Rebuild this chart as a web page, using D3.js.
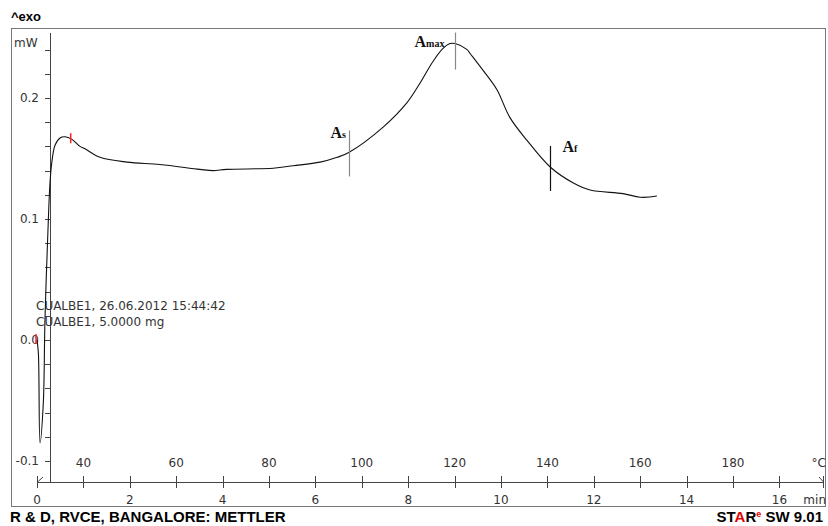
<!DOCTYPE html>
<html>
<head>
<meta charset="utf-8">
<script src="https://cdn.jsdelivr.net/npm/d3@7"></script>
<style>
  body { margin: 0; background: #fff; }
  svg { display: block; }
</style>
</head>
<body>
<svg id="chart" width="828" height="526"></svg>
<script>
// DSC curve: time in min, heat flow in mW
const timeMin = [0, 0.03, 0.065, 0.136, 0.172, 0.244, 0.28, 0.317, 0.388, 0.496, 0.603, 0.748,
  0.927, 1.034, 1.358, 1.94, 2.65, 3.51, 3.79, 4.09, 5.09, 5.52, 6.10, 6.47, 6.72,
  7.46, 7.97, 8.25, 8.53, 8.75, 8.90, 9.01, 9.27, 9.33, 9.61, 9.91, 10.19, 10.56,
  11.06, 11.55, 11.92, 12.63, 13.0, 13.36];
const heatFlow = [0.0, -0.011, -0.085, -0.052, 0.017, 0.099, 0.130, 0.146, 0.161, 0.167, 0.168, 0.166,
  0.160, 0.158, 0.151, 0.147, 0.145, 0.141, 0.140, 0.141, 0.142, 0.144, 0.147, 0.151, 0.155,
  0.176, 0.196, 0.212, 0.230, 0.241, 0.245, 0.245, 0.240, 0.237, 0.223, 0.207, 0.184, 0.165,
  0.143, 0.130, 0.124, 0.121, 0.118, 0.119];

// evaluation marks
const marks = [
  { name: 'A', sub: 's', t: 6.72, v: 0.155 },
  { name: 'A', sub: 'max', t: 9.01, v: 0.245 },
  { name: 'A', sub: 'f', t: 11.06, v: 0.143 }
];
const redTicks = [0, 0.748];

const timeTicks = [0, 2, 4, 6, 8, 10, 12, 14, 16];
const tempTicks = [40, 60, 80, 100, 120, 140, 160, 180];
const yTicks = [-0.1, 0.0, 0.1, 0.2];

const svg = d3.select('#chart');

// scales (heating 10 K/min from 30 °C)
const x = d3.scaleLinear().domain([0, 16]).range([37, 779.4]);
const xTemp = d3.scaleLinear().domain([30, 190]).range([37, 779.4]);
const y = d3.scaleLinear().domain([-0.1, 0.2]).range([461, 98]);

const axisColor = '#444';
const tickFont = 'DejaVu Sans, sans-serif';
const tickSize = 12;

// frame
svg.append('rect')
  .attr('x', 11.5).attr('y', 28.5).attr('width', 814).attr('height', 478)
  .attr('fill', 'none').attr('stroke', '#777').attr('stroke-width', 1);

svg.append('text').attr('x', 11).attr('y', 21)
  .attr('font-family', 'Liberation Sans, Arial, sans-serif').attr('font-weight', 'bold')
  .attr('font-size', 13).text('^exo');

// y axis
const yAxisX = 50;
svg.append('line')
  .attr('x1', yAxisX + 0.5).attr('x2', yAxisX + 0.5).attr('y1', 33).attr('y2', 482)
  .attr('stroke', axisColor);
const minor = d3.range(-0.1, 0.2401, 0.02);
svg.append('g').selectAll('line').data(minor).join('line')
  .attr('x1', yAxisX - 5).attr('x2', yAxisX)
  .attr('y1', d => Math.round(y(d)) + 0.5).attr('y2', d => Math.round(y(d)) + 0.5)
  .attr('stroke', axisColor);
svg.append('g').selectAll('text').data(yTicks).join('text')
  .attr('x', 39).attr('y', d => y(d) + 4)
  .attr('text-anchor', 'end')
  .attr('font-family', tickFont).attr('font-size', tickSize).attr('fill', '#333')
  .text(d => d3.format('.1f')(d).replace('\u2212', '-'));
svg.append('text').attr('x', 14).attr('y', 47)
  .attr('font-family', tickFont).attr('font-size', tickSize).attr('fill', '#333').text('mW');

// x axis (time below, temperature above)
const axisY = 482;
svg.append('line')
  .attr('x1', 37).attr('x2', 824).attr('y1', axisY + 0.5).attr('y2', axisY + 0.5)
  .attr('stroke', axisColor);
svg.append('g').selectAll('line').data(timeTicks.slice(1)).join('line')
  .attr('x1', d => Math.round(x(d)) + 0.5).attr('x2', d => Math.round(x(d)) + 0.5)
  .attr('y1', axisY - 6).attr('y2', axisY + 6).attr('stroke', axisColor);
svg.append('g').selectAll('line').data(tempTicks).join('line')
  .attr('x1', d => Math.round(xTemp(d)) + 0.5).attr('x2', d => Math.round(xTemp(d)) + 0.5)
  .attr('y1', axisY - 6).attr('y2', axisY + 6).attr('stroke', axisColor);
// axis end marks
svg.append('path')
  .attr('d', `M37.5,${axisY + 6}V${axisY - 6}M37.5,${axisY}L43,${axisY - 5}`)
  .attr('fill', 'none').attr('stroke', axisColor);
svg.append('path')
  .attr('d', `M823.5,${axisY + 6}V${axisY - 6}M823.5,${axisY}L819,${axisY - 5}`)
  .attr('fill', 'none').attr('stroke', axisColor);

svg.append('g').selectAll('text').data(timeTicks).join('text')
  .attr('x', d => x(d)).attr('y', 504)
  .attr('text-anchor', 'middle')
  .attr('font-family', tickFont).attr('font-size', tickSize).attr('fill', '#333')
  .text(d => d);
svg.append('g').selectAll('text').data(tempTicks).join('text')
  .attr('x', d => xTemp(d)).attr('y', 467)
  .attr('text-anchor', 'middle')
  .attr('font-family', tickFont).attr('font-size', tickSize).attr('fill', '#333')
  .text(d => d);
svg.append('text').attr('x', 826).attr('y', 504).attr('text-anchor', 'end')
  .attr('font-family', tickFont).attr('font-size', tickSize).attr('fill', '#333').text('min');
svg.append('text').attr('x', 826).attr('y', 467).attr('text-anchor', 'end')
  .attr('font-family', tickFont).attr('font-size', tickSize).attr('fill', '#333').text('°C');

// sample info
svg.append('text').attr('x', 36).attr('y', 310)
  .attr('font-family', tickFont).attr('font-size', tickSize).attr('fill', '#333')
  .text('CUALBE1, 26.06.2012 15:44:42');
svg.append('text').attr('x', 36).attr('y', 326)
  .attr('font-family', tickFont).attr('font-size', tickSize).attr('fill', '#333')
  .text('CUALBE1, 5.0000 mg');

// curve
const pts = timeMin.map((t, i) => [t, heatFlow[i]]);
const line = d3.line().x(d => x(d[0])).y(d => y(d[1])).curve(d3.curveCatmullRom.alpha(0.5));
svg.append('path').datum(pts)
  .attr('d', line)
  .attr('fill', 'none').attr('stroke', '#111').attr('stroke-width', 1.1);

// red ticks on the curve
svg.append('g').selectAll('line').data(redTicks).join('line')
  .attr('x1', d => x(d) - 1).attr('x2', d => x(d) - 1)
  .attr('y1', d => y(heatFlow[timeMin.indexOf(d)]) - 6)
  .attr('y2', d => y(heatFlow[timeMin.indexOf(d)]) + 4)
  .attr('stroke', '#ff2020').attr('stroke-width', 1.5);

// evaluation marks
const markLines = [
  { up: 22, down: 24, color: '#888' },
  { up: 11, down: 26, color: '#888' },
  { up: 21, down: 24, color: '#111' }
];
const labelPos = [
  { dx: -19, y: 138 },
  { dx: -41, y: 47 },
  { dx: 12, y: 152 }
];
marks.forEach((m, i) => {
  const px = Math.round(x(m.t)) + 0.5;
  const py = y(m.v);
  svg.append('line')
    .attr('x1', px).attr('x2', px)
    .attr('y1', py - markLines[i].up).attr('y2', py + markLines[i].down)
    .attr('stroke', markLines[i].color).attr('stroke-width', 1.2);
  const t = svg.append('text')
    .attr('x', px + labelPos[i].dx).attr('y', labelPos[i].y)
    .attr('font-family', 'Liberation Serif, Times New Roman, serif')
    .attr('font-weight', 'bold').attr('fill', '#111');
  t.append('tspan').attr('font-size', 16).text(m.name);
  t.append('tspan').attr('font-size', 10).text(m.sub);
});

// footer
svg.append('text').attr('x', 10).attr('y', 522)
  .attr('font-family', 'Liberation Sans, Arial, sans-serif').attr('font-weight', 'bold')
  .attr('font-size', 15).text('R & D, RVCE, BANGALORE: METTLER');
const star = svg.append('text').attr('x', 823).attr('y', 522).attr('text-anchor', 'end')
  .attr('font-family', 'Liberation Sans, Arial, sans-serif').attr('font-weight', 'bold')
  .attr('font-size', 15);
star.append('tspan').text('ST');
star.append('tspan').attr('fill', '#e00000').text('A');
star.append('tspan').text('R');
star.append('tspan').attr('fill', '#e00000').attr('font-size', 9).attr('dy', -5).text('e');
star.append('tspan').attr('dy', 5).text(' SW 9.01');
</script>
</body>
</html>
